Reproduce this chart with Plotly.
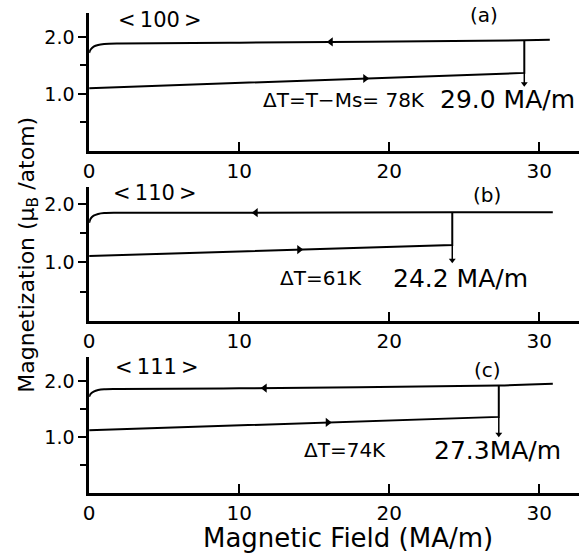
import numpy as np
import plotly.graph_objects as go

# Critical field of the field-induced transition for each crystal direction (MA/m)
directions = ["<\u2009100\u2009>", "<\u2009110\u2009>", "<\u2009111\u2009>"]
panel_tags = ["(a)", "(b)", "(c)"]
delta_T_labels = ["\u0394T=T\u2212Ms= 78K", "\u0394T=61K", "\u0394T=74K"]
field_labels = ["29.0 MA/m", "24.2 MA/m", "27.3MA/m"]
H_crit = [29.0, 24.2, 27.3]

# Rising-field branch: magnetization at H=0 and just before the jump (muB/atom)
M_low_start = [1.10, 1.11, 1.12]
M_low_end = [1.37, 1.30, 1.36]

# Falling-field branch, from the highest field back to zero
H_up_a = [30.7, 29.0, 10.0, 2.0, 1.0, 0.6, 0.3, 0.1, 0.0]
M_up_a = [1.95, 1.94, 1.90, 1.885, 1.875, 1.86, 1.83, 1.78, 1.72]
H_up_b = [30.9, 24.2, 10.0, 2.0, 1.0, 0.6, 0.3, 0.1, 0.0]
M_up_b = [1.86, 1.86, 1.85, 1.85, 1.845, 1.83, 1.80, 1.75, 1.68]
H_up_c = [30.9, 27.3, 10.0, 2.0, 1.0, 0.6, 0.3, 0.1, 0.0]
M_up_c = [1.95, 1.92, 1.87, 1.86, 1.855, 1.84, 1.81, 1.77, 1.72]

# Positions of the direction arrows along each branch (MA/m)
H_arrow_down = [16.1, 11.1, 11.7]
H_arrow_up = [18.4, 14.0, 15.9]
# Lower end of the marker below each transition (muB/atom)
M_marker_end = [1.18, 1.04, 1.05]

x_ticks = [0, 10, 20, 30]
y_major = [1.0, 2.0]
y_major_text = ["1.0", "2.0"]
y_minor = [0.5, 1.5]

W, H = 586, 556
FONT = "DejaVu Sans"

def px_x(p):
    return p / W

def px_y(p):
    return (H - p) / H

# panel geometry in pixels: (bottom of axis, top of axis)
panels_px = [(151, 13), (321, 187), (493, 357)]
y_tops = [2.42, 2.29, 2.43]
x_left_px, x_right_px = 84, 579
x_max = 32.65

uppers = [(H_up_a, M_up_a), (H_up_b, M_up_b), (H_up_c, M_up_c)]

fig = go.Figure()
line_style = dict(color="black", width=2)

for i in range(3):
    xa = "x" if i == 0 else f"x{i+1}"
    ya = "y" if i == 0 else f"y{i+1}"
    Hu, Mu = uppers[i]
    hc = H_crit[i]
    m_top = float(np.interp(hc, Hu[::-1], Mu[::-1]))
    # rising branch and the jump at the critical field
    fig.add_trace(go.Scatter(x=[0.0, hc, hc], y=[M_low_start[i], M_low_end[i], m_top],
                             mode="lines", line=line_style,
                             xaxis=xa, yaxis=ya, showlegend=False, hoverinfo="skip"))
    # falling branch back to zero field
    fig.add_trace(go.Scatter(x=Hu, y=Mu, mode="lines", line=line_style,
                             line_shape="spline", xaxis=xa, yaxis=ya, showlegend=False,
                             hoverinfo="skip"))
    # marker below the transition
    fig.add_trace(go.Scatter(x=[hc, hc], y=[M_low_end[i], M_marker_end[i]], mode="lines",
                             line=dict(color="black", width=1.5),
                             xaxis=xa, yaxis=ya, showlegend=False, hoverinfo="skip"))
    fig.add_trace(go.Scatter(x=[hc], y=[M_marker_end[i]], mode="markers",
                             marker=dict(symbol="triangle-down", size=6, color="black"),
                             xaxis=xa, yaxis=ya, showlegend=False, hoverinfo="skip"))
    # direction arrows
    m_dn = float(np.interp(H_arrow_down[i], Hu[::-1], Mu[::-1]))
    m_upr = float(np.interp(H_arrow_up[i], [0.0, hc], [M_low_start[i], M_low_end[i]]))
    fig.add_trace(go.Scatter(x=[H_arrow_down[i], H_arrow_up[i]], y=[m_dn, m_upr], mode="markers",
                             marker=dict(symbol=["triangle-left", "triangle-right"], size=8, color="black"),
                             xaxis=xa, yaxis=ya, showlegend=False, hoverinfo="skip"))

layout = dict(
    width=W, height=H,
    margin=dict(l=0, r=0, t=0, b=0),
    paper_bgcolor="white", plot_bgcolor="white",
    font=dict(family=FONT, color="black"),
    showlegend=False,
)

for i in range(3):
    bot, top = panels_px[i]
    xkey = "xaxis" if i == 0 else f"xaxis{i+1}"
    ykey = "yaxis" if i == 0 else f"yaxis{i+1}"
    yref = "y" if i == 0 else f"y{i+1}"
    xref = "x" if i == 0 else f"x{i+1}"
    layout[xkey] = dict(
        domain=[px_x(x_left_px), px_x(x_right_px)], anchor=yref, range=[0, x_max],
        showline=True, linecolor="black", linewidth=2.5, showgrid=False, zeroline=False,
        ticks="inside", ticklen=9, tickwidth=2, tickcolor="black",
        tickvals=x_ticks, ticktext=[str(v) for v in x_ticks],
        tickfont=dict(family=FONT, size=20, color="black"),
    )
    layout[ykey] = dict(
        domain=[px_y(bot), px_y(top)], anchor=xref, range=[0, y_tops[i]],
        showline=True, linecolor="black", linewidth=2.5, showgrid=False, zeroline=False,
        ticks="outside", ticklen=8, tickwidth=1.5, tickcolor="black",
        tickvals=y_major, ticktext=y_major_text,
        tickfont=dict(family=FONT, size=19, color="black"),
        minor=dict(tickmode="array", tickvals=y_minor, ticks="outside", ticklen=6,
                   tickwidth=1.5, tickcolor="black", showgrid=False),
    )

fig.update_layout(**layout)

def to_val(py, i):
    bot, top = panels_px[i]
    return (bot - py) / (bot - top) * y_tops[i]

def to_h(px):
    return (px - x_left_px) / (x_right_px - x_left_px) * x_max

dir_pos = [(156, 20), (151, 193), (153, 367)]
tag_pos = [(483, 15), (486, 195), (486, 370)]
dt_pos = [(258, 100), (275, 278), (299, 450)]
fl_pos = [(436, 100), (389, 278), (430, 450)]

for i in range(3):
    xref = "x" if i == 0 else f"x{i+1}"
    yref = "y" if i == 0 else f"y{i+1}"
    common = dict(xref=xref, yref=yref, showarrow=False)
    fig.add_annotation(text=directions[i], x=to_h(dir_pos[i][0]), y=to_val(dir_pos[i][1], i),
                       xanchor="center", yanchor="middle", font=dict(family=FONT, size=21), **common)
    fig.add_annotation(text=panel_tags[i], x=to_h(tag_pos[i][0]), y=to_val(tag_pos[i][1], i),
                       xanchor="center", yanchor="middle", font=dict(family=FONT, size=20), **common)
    fig.add_annotation(text=delta_T_labels[i], x=to_h(dt_pos[i][0]), y=to_val(dt_pos[i][1], i),
                       xanchor="left", yanchor="middle", font=dict(family=FONT, size=20), **common)
    fig.add_annotation(text=field_labels[i], x=to_h(fl_pos[i][0]), y=to_val(fl_pos[i][1], i),
                       xanchor="left", yanchor="middle", font=dict(family=FONT, size=25), **common)

# axis titles shared by the three panels
fig.add_annotation(text="Magnetic Field (MA/m)", xref="paper", yref="paper",
                   x=px_x(346), y=px_y(538), xanchor="center", yanchor="middle",
                   showarrow=False, font=dict(family=FONT, size=26))
fig.add_annotation(text="Magnetization (\u03bc<sub>B</sub> /atom)", xref="paper", yref="paper",
                   x=px_x(22), y=px_y(255), xanchor="center", yanchor="middle", textangle=-90,
                   showarrow=False, font=dict(family=FONT, size=22))

fig.write_html("out.html")
